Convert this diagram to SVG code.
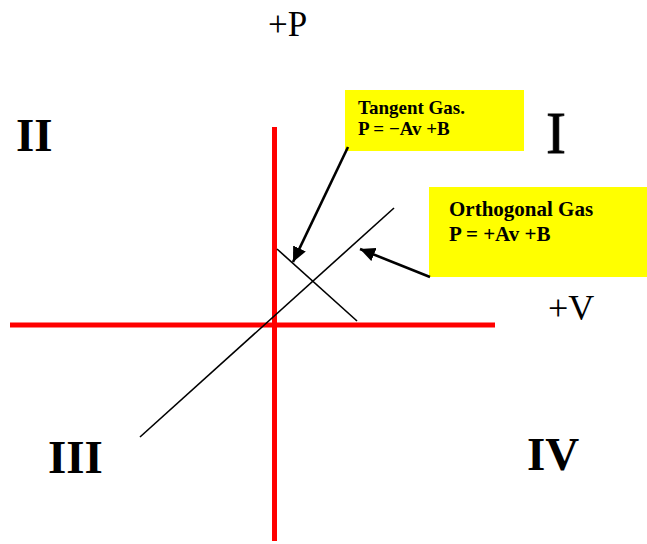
<svg xmlns="http://www.w3.org/2000/svg" width="647" height="544" viewBox="0 0 647 544">
<style>
.lbl{font-family:"Liberation Serif","Times New Roman",serif;fill:#000}
.quad{font-family:"Liberation Serif","Times New Roman",serif;font-weight:bold;font-size:47px;fill:#000}
.box{fill:#ffff00}
.boxt{font-family:"Liberation Serif","Times New Roman",serif;font-weight:bold;fill:#000}
.axis{stroke:#ff0000;stroke-width:5;fill:none}
.thin{stroke:#000;stroke-width:1.6;fill:none}
.arr{stroke:#000;stroke-width:2.6;fill:none}
</style>
<defs>
<marker id="ah" markerUnits="userSpaceOnUse" markerWidth="16" markerHeight="14" refX="15" refY="7" orient="auto">
<path d="M0,0 L15,7 L0,14 Z" fill="#000"/>
</marker>
</defs>
<rect width="647" height="544" fill="#fff"/>
<g id="axes">
<line class="axis" x1="274.5" y1="127" x2="274.5" y2="541"/>
<line class="axis" x1="10" y1="325" x2="495" y2="325"/>
</g>
<g id="axis-labels">
<text class="lbl" x="268" y="36" font-size="35">+P</text>
<text class="lbl" x="548" y="320" font-size="36">+V</text>
</g>
<g id="quadrants">
<text class="quad" x="16" y="151">II</text>
<text class="lbl" x="546" y="153" font-size="60" stroke="#000" stroke-width="0.8">I</text>
<text class="quad" x="48" y="473">III</text>
<text class="quad" x="527" y="470">IV</text>
</g>
<g id="gas-lines">
<line class="thin" x1="140" y1="437" x2="394" y2="208"/>
<line class="thin" x1="277" y1="249" x2="357" y2="321"/>
</g>
<g id="tangent-node">
<rect class="box" x="345" y="90" width="179" height="61"/>
<text class="boxt" x="358" y="114" font-size="19">Tangent Gas.</text>
<text class="boxt" x="358" y="135" font-size="19">P = −Av +B</text>
</g>
<g id="orthogonal-node">
<rect class="box" x="429" y="187" width="218" height="90"/>
<text class="boxt" x="449" y="216" font-size="21">Orthogonal Gas</text>
<text class="boxt" x="449" y="241" font-size="21">P = +Av +B</text>
</g>
<g id="connectors">
<line class="arr" x1="348" y1="147" x2="293" y2="262" marker-end="url(#ah)"/>
<line class="arr" x1="430" y1="277" x2="360" y2="249" marker-end="url(#ah)"/>
</g>
</svg>
